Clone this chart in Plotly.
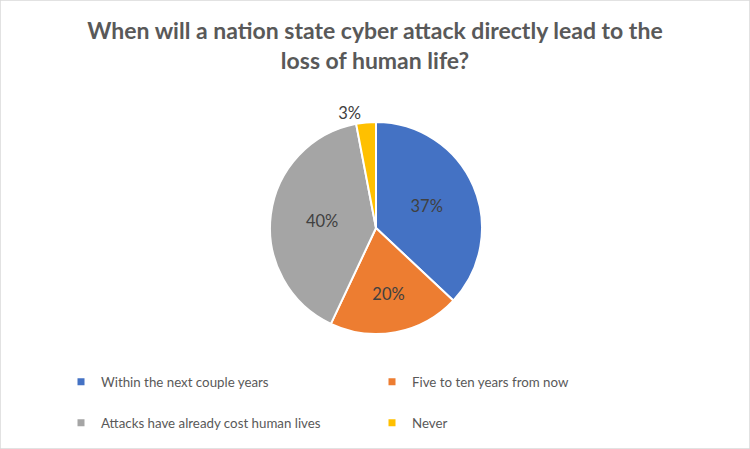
import plotly.graph_objects as go

labels = ["Within the next couple years", "Five to ten years from now",
          "Attacks have already cost human lives", "Never"]
values = [37, 20, 40, 3]
colors = ["#4472C4", "#ED7D31", "#A5A5A5", "#FFC000"]
title_text = "When will a nation state cyber attack directly lead to the<br>loss of human life?"

FONT = "Lato"
W, H = 750, 449

fig = go.Figure()
fig.add_trace(go.Pie(
    labels=labels, values=values, sort=False, direction="clockwise", rotation=0,
    marker=dict(colors=colors, line=dict(color="white", width=2)),
    texttemplate="%{percent:.0%}", textposition=["inside", "inside", "inside", "outside"],
    insidetextorientation="horizontal",
    textfont=dict(family=FONT, size=16.5, color="#404040"),
    domain=dict(x=[270 / W, 482 / W], y=[(H - 334) / H, (H - 122) / H]),
    showlegend=False, hoverinfo="label+percent",
))

# legend entries (two rows, two columns)
legend_names = ["legend", "legend", "legend2", "legend2"]
for lab, col, lg in zip(labels, colors, legend_names):
    fig.add_trace(go.Scatter(
        x=[None], y=[None], mode="markers", name=lab, legend=lg,
        marker=dict(symbol="square", size=7, color=col),
    ))

legend_common = dict(
    orientation="h", xanchor="left", yanchor="middle",
    font=dict(family=FONT, size=13.3, color="#595959"),
    entrywidth=266, entrywidthmode="pixels", bgcolor="rgba(0,0,0,0)",
)

fig.update_layout(
    width=W, height=H, margin=dict(l=0, r=0, t=0, b=0),
    paper_bgcolor="white", plot_bgcolor="white",
    title=dict(text=title_text, x=0.5, xanchor="center", y=1 - 39 / H, yanchor="middle",
               font=dict(family=FONT, size=23, color="#595959", weight="bold")),
    xaxis=dict(visible=False), yaxis=dict(visible=False),
    legend=dict(x=(81 - 20) / W, y=1 - 382 / H, **legend_common),
    legend2=dict(x=(81 - 20) / W, y=1 - 423 / H, **legend_common),
    shapes=[dict(type="rect", xref="paper", yref="paper", x0=0, y0=0, x1=1, y1=1,
                 line=dict(color="#D9D9D9", width=1.5))],
)

fig.write_html("out.html")
